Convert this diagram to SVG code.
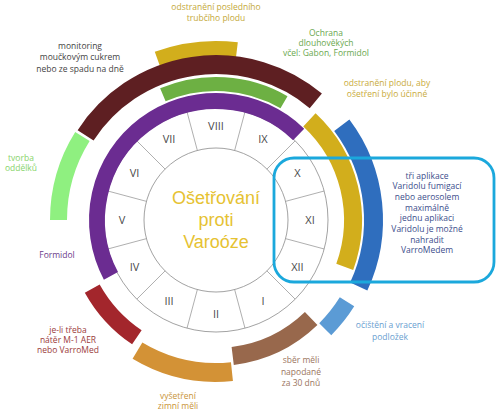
<svg xmlns="http://www.w3.org/2000/svg" width="500" height="415" viewBox="0 0 500 415">
<style>
.band{fill:none;stroke-linecap:butt}
.lbl{font-family:"Open Sans","Liberation Sans",sans-serif;font-size:8.5px;text-anchor:middle}
.mon{font-family:"Open Sans","Liberation Sans",sans-serif;font-size:11px;fill:#4a4a4a;text-anchor:middle}
.ring{fill:none;stroke:#8a8a8a;stroke-width:0.8}
.div{stroke:#9a9a9a;stroke-width:0.8}
.ctr{font-family:"Liberation Sans",Arial,sans-serif;font-size:18px;fill:#e6c232;text-anchor:middle}
</style>
<rect width="500" height="415" fill="#fff"/>
<g id="month-ring">
<circle class="ring" cx="216" cy="220" r="112" fill="#fff"/>
<circle class="ring" cx="216" cy="220" r="72"/>
<g class="div">
<line x1="285.55" y1="238.64" x2="324.18" y2="248.99"/>
<line x1="266.91" y1="270.91" x2="295.20" y2="299.20"/>
<line x1="234.64" y1="289.55" x2="244.99" y2="328.18"/>
<line x1="197.36" y1="289.55" x2="187.01" y2="328.18"/>
<line x1="165.09" y1="270.91" x2="136.80" y2="299.20"/>
<line x1="146.45" y1="238.64" x2="107.82" y2="248.99"/>
<line x1="146.45" y1="201.36" x2="107.82" y2="191.01"/>
<line x1="165.09" y1="169.09" x2="136.80" y2="140.80"/>
<line x1="197.36" y1="150.45" x2="187.01" y2="111.82"/>
<line x1="234.64" y1="150.45" x2="244.99" y2="111.82"/>
<line x1="266.91" y1="169.09" x2="295.20" y2="140.80"/>
<line x1="285.55" y1="201.36" x2="324.18" y2="191.01"/>
</g>
<g>
<text class="mon" x="310" y="224">XI</text>
<text class="mon" x="297.4" y="271">XII</text>
<text class="mon" x="263" y="305.4">I</text>
<text class="mon" x="216" y="318">II</text>
<text class="mon" x="169" y="305.4">III</text>
<text class="mon" x="134.6" y="271">IV</text>
<text class="mon" x="122" y="224">V</text>
<text class="mon" x="134.6" y="177">VI</text>
<text class="mon" x="169" y="142.6">VII</text>
<text class="mon" x="216" y="130">VIII</text>
<text class="mon" x="263" y="142.6">IX</text>
<text class="mon" x="297.4" y="177">X</text>
</g>
</g>
<g id="center">
<text class="ctr" x="216" y="204">Ošetřování</text>
<text class="ctr" x="216" y="226">proti</text>
<text class="ctr" x="216" y="248">Varoóze</text>
</g>
<g id="bands">
<path id="formidol" class="band" d="M110.93 275.87 A119 119 0 0 1 298.66 134.40" stroke="#6b2c91" stroke-width="16"/>
<path id="ochrana" class="band" d="M162.86 94.81 A136 136 0 0 1 284 102.22" stroke="#6db043" stroke-width="14"/>
<path id="trubci" class="band" d="M157.34 58.84 A171.5 171.5 0 0 1 236.90 49.78" stroke="#d2ae1c" stroke-width="15"/>
<path id="monitoring" class="band" d="M85.59 135.31 A155.5 155.5 0 0 1 315.80 100.90" stroke="#5e1f22" stroke-width="19"/>
<path id="tvorba" class="band" d="M58.5 220 A157.5 157.5 0 0 1 82.43 136.54" stroke="#8ff080" stroke-width="17"/>
<path id="odstraneni" class="band" d="M309.43 119.81 A137 137 0 0 1 344.74 266.86" stroke="#d2ae1c" stroke-width="18"/>
<path id="tri-aplikace" class="band" d="M341.79 125.21 A157.5 157.5 0 0 1 358.74 286.56" stroke="#2f6ebe" stroke-width="19"/>
<path id="ocisteni" class="band" d="M347.02 301.87 A154.5 154.5 0 0 1 325.25 329.25" stroke="#5b9bd5" stroke-width="17"/>
<path id="sber" class="band" d="M311.17 318.55 A137 137 0 0 1 232.70 355.98" stroke="#98684c" stroke-width="18"/>
<path id="vysetreni" class="band" d="M231.94 371.66 A152.5 152.5 0 0 1 137.46 350.72" stroke="#d39236" stroke-width="19"/>
<path id="nater" class="band" d="M136.87 337.31 A141.5 141.5 0 0 1 92.24 288.60" stroke="#a3262c" stroke-width="17"/>
</g>
<g id="callout">
<rect x="274" y="158" width="220" height="124" rx="20" ry="20" fill="none" stroke="#1ba8dc" stroke-width="2.8"/>
<text class="lbl" fill="#3c4e8c" font-size="9.6"><tspan x="427" y="178.5">tři aplikace</tspan><tspan x="427" y="189.2">Varidolu fumigací</tspan><tspan x="427" y="199.9">nebo aerosolem</tspan><tspan x="427" y="210.6">maximálně</tspan><tspan x="427" y="221.3">jednu aplikaci</tspan><tspan x="427" y="232">Varidolu je možné</tspan><tspan x="427" y="242.7">nahradit</tspan><tspan x="427" y="253.4">VarroMedem</tspan></text>
</g>
<g id="labels">
<text class="lbl" fill="#c4a93b"><tspan x="216" y="10">odstranění posledního</tspan><tspan x="216" y="21">trubčího plodu</tspan></text>
<text class="lbl" fill="#6aa84f"><tspan x="326" y="36">Ochrana</tspan><tspan x="326" y="46">dlouhověkých</tspan><tspan x="326" y="56">včel: Gabon, Formidol</tspan></text>
<text class="lbl" fill="#c9ab3b"><tspan x="387" y="86">odstranění plodu, aby</tspan><tspan x="387" y="97">ošetření bylo účinné</tspan></text>
<text class="lbl" fill="#444" font-size="10"><tspan x="80" y="48.5">monitoring</tspan><tspan x="80" y="60">moučkovým cukrem</tspan><tspan x="80" y="71.5">nebo ze spadu na dně</tspan></text>
<text class="lbl" fill="#88d46a" font-size="9.3"><tspan x="21" y="161">tvorba</tspan><tspan x="21" y="171">oddělků</tspan></text>
<text class="lbl" fill="#6b3a8a" font-size="9" x="57" y="258">Formidol</text>
<text class="lbl" fill="#9b3a3a" font-size="8.8"><tspan x="68" y="333">je-li třeba</tspan><tspan x="68" y="343">nátěr M-1 AER</tspan><tspan x="68" y="353">nebo VarroMed</tspan></text>
<text class="lbl" fill="#c99438"><tspan x="178" y="399">vyšetření</tspan><tspan x="178" y="409">zimní měli</tspan></text>
<text class="lbl" fill="#9b7560" font-size="9.5"><tspan x="301" y="363">sběr měli</tspan><tspan x="301" y="375">napodané</tspan><tspan x="301" y="386">za 30 dnů</tspan></text>
<text class="lbl" fill="#6aa0d0" font-size="9"><tspan x="390" y="328">očištění a vracení</tspan><tspan x="390" y="340">podložek</tspan></text>
</g>
</svg>
